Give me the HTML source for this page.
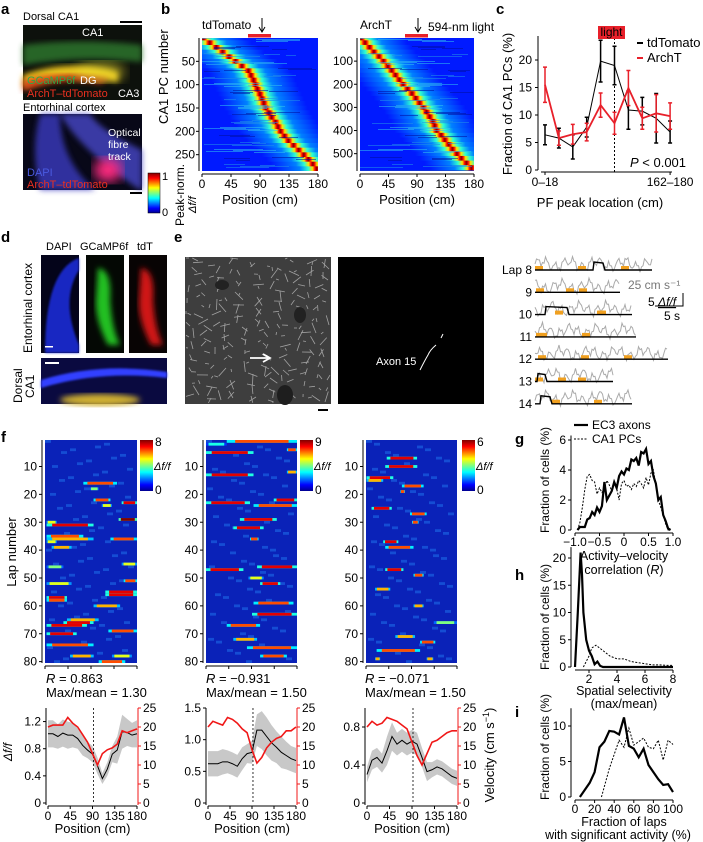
<!DOCTYPE html>
<html><head><meta charset="utf-8"><style>
html,body{margin:0;padding:0;background:#fff;}
svg{display:block;font-family:"Liberation Sans",sans-serif;}
text{font-family:"Liberation Sans",sans-serif;}
</style></head>
<body>
<svg id="fig" width="703" height="842" viewBox="0 0 703 842" xmlns="http://www.w3.org/2000/svg">
<defs>
<linearGradient id="jetV" x1="0" y1="1" x2="0" y2="0">
<stop offset="0" stop-color="#00008f"/><stop offset="0.12" stop-color="#0000ff"/><stop offset="0.37" stop-color="#00ffff"/><stop offset="0.5" stop-color="#80ff80"/><stop offset="0.63" stop-color="#ffff00"/><stop offset="0.87" stop-color="#ff0000"/><stop offset="1" stop-color="#800000"/>
</linearGradient>
<filter id="blur6"><feGaussianBlur stdDeviation="6"/></filter>
<filter id="blur3"><feGaussianBlur stdDeviation="3"/></filter>
<filter id="blur1"><feGaussianBlur stdDeviation="1"/></filter>
</defs>

<!-- panel labels -->
<g font-weight="bold" font-size="15" fill="#000">
<text x="1" y="14">a</text>
<text x="161" y="14">b</text>
<text x="496" y="14">c</text>
<text x="1" y="242">d</text>
<text x="174" y="242">e</text>
<text x="1" y="442">f</text>
<text x="515" y="444">g</text>
<text x="515" y="580">h</text>
<text x="515" y="717">i</text>
</g>

<!-- panel a -->
<g font-size="11">
<text x="23" y="20">Dorsal CA1</text>
<rect x="120" y="21" width="22" height="2" fill="#000"/>
<rect x="23" y="25" width="119" height="75" fill="#0d110c"/>
<path d="M23 45 Q80 38 142 45 L142 62 Q80 55 23 65 Z" fill="#2f7a2f" opacity="0.8" filter="url(#blur3)"/>
<path d="M23 75 Q70 58 118 72 L118 82 Q70 70 23 88 Z" fill="#e8c21a" filter="url(#blur3)"/>
<path d="M23 80 Q60 70 110 78 L100 84 Q60 76 23 92 Z" fill="#e03818" opacity="0.8" filter="url(#blur3)"/>
<ellipse cx="100" cy="72" rx="25" ry="10" fill="#f0e030" opacity="0.6" filter="url(#blur6)"/>
<text x="82" y="36" fill="#fff">CA1</text>
<text x="27" y="84" fill="#2fa84a">GCaMP6f</text>
<text x="80" y="84" fill="#fff">DG</text>
<text x="27" y="97" fill="#e83020">ArchT–tdTomato</text>
<text x="118" y="97" fill="#fff">CA3</text>
<text x="23" y="111">Entorhinal cortex</text>
<rect x="23" y="114" width="119" height="76" fill="#080818"/>
<path d="M40 114 Q30 150 40 190 L95 190 Q60 160 60 114 Z" fill="#3a3ac0" opacity="0.8" filter="url(#blur3)"/>
<path d="M60 114 Q80 150 140 190 L142 190 L142 150 Q100 130 90 114 Z" fill="#4646c8" opacity="0.8" filter="url(#blur3)"/>
<ellipse cx="108" cy="170" rx="14" ry="12" fill="#ff2a80" filter="url(#blur6)"/>
<g font-size="10.5">
<text x="108" y="136" fill="#fff">Optical</text>
<text x="108" y="148" fill="#fff">fibre</text>
<text x="108" y="160" fill="#fff">track</text>
</g>
<text x="27" y="176" fill="#4a5ae0">DAPI</text>
<text x="27" y="188" fill="#e83020">ArchT–tdTomato</text>
<rect x="130" y="192" width="12" height="2" fill="#000"/>
<rect x="148" y="173" width="12" height="40" fill="url(#jetV)" stroke="#000" stroke-width="0.5"/>
<text x="162" y="180" font-size="11">1</text>
<text x="162" y="216" font-size="11">0</text>
<text transform="translate(184,226) rotate(-90)" font-size="12">Peak-norm.</text>
<text transform="translate(196,213) rotate(-90)" font-size="11" font-style="italic">Δf/f</text>
</g>

<!-- panel b titles -->
<g font-size="12">
<text x="202" y="29">tdTomato</text>
<text x="360" y="29">ArchT</text>
<text x="428" y="31">594-nm light</text>
<path d="M262 18 V31 M259 27 L262 32 L265 27" stroke="#000" fill="none"/>
<path d="M418 18 V31 M415 27 L418 32 L421 27" stroke="#000" fill="none"/>
<rect x="248" y="34" width="23" height="3.5" fill="#e8202a"/>
<rect x="405" y="34" width="23" height="3.5" fill="#e8202a"/>
<text transform="translate(168,124) rotate(-90)" font-size="13">CA1 PC number</text>
</g>

<!-- panel d -->
<g font-size="11">
<text x="46" y="250">DAPI</text>
<text x="80" y="250">GCaMP6f</text>
<text x="137" y="250">tdT</text>
<text transform="translate(32,353) rotate(-90)" font-size="12">Entorhinal cortex</text>
<text transform="translate(22,403) rotate(-90)" font-size="12">Dorsal</text>
<text transform="translate(34,398) rotate(-90)" font-size="12">CA1</text>
<rect x="41" y="255" width="38" height="98" fill="#04041a"/>
<path d="M79 258 Q45 270 45 353 L79 353 L79 345 Q60 300 79 270 Z" fill="#1f2de0" opacity="0.85" filter="url(#blur1)"/>
<rect x="86" y="255" width="38" height="98" fill="#040804"/>
<path d="M98 268 Q112 270 110 300 Q112 330 120 345 L108 345 Q95 320 96 300 Z" fill="#22c020" filter="url(#blur3)"/>
<rect x="129" y="255" width="38" height="98" fill="#080404"/>
<path d="M141 268 Q155 270 153 300 Q155 330 163 345 L151 345 Q138 320 139 300 Z" fill="#d01818" filter="url(#blur3)"/>
<rect x="45" y="346" width="8" height="1.5" fill="#fff"/>
<rect x="41" y="358" width="126" height="46" fill="#0a0a40"/>
<path d="M41 380 Q100 362 167 372 L167 378 Q100 370 41 388 Z" fill="#3040ff" filter="url(#blur1)"/>
<ellipse cx="100" cy="400" rx="40" ry="6" fill="#d0b030" filter="url(#blur3)"/>
<rect x="45" y="362" width="14" height="2" fill="#fff"/>
</g>

<!-- panel e -->
<g>
<rect x="185" y="257" width="146" height="147" fill="#3e3e3e"/>
<g id="eTex" opacity="0.8"></g>
<ellipse cx="222" cy="285" rx="7" ry="5" fill="#222"/>
<ellipse cx="300" cy="315" rx="6" ry="8" fill="#222"/>
<ellipse cx="285" cy="395" rx="8" ry="10" fill="#1e1e1e"/>
<path d="M250 358 H268 M263 354 L270 358 L263 362" stroke="#fff" stroke-width="1.8" fill="none"/>
<rect x="318" y="409" width="10" height="2" fill="#000"/>
<rect x="338" y="257" width="146" height="147" fill="#000"/>
<path d="M420 370 Q425 360 428 355 Q430 350 436 345 M441 338 L443 334" stroke="#fff" stroke-width="1" fill="none"/>
<text x="376" y="365" font-size="11" fill="#fff">Axon 15</text>
<g id="eTraces"></g>
<text x="628" y="289" font-size="12" fill="#777">25 cm s⁻¹</text>
<text x="648" y="306" font-size="12">5 <tspan font-style="italic" text-decoration="underline">Δf/f</tspan></text>
<path d="M683 293 V306 H655" stroke="#000" fill="none"/>
<text x="664" y="320" font-size="12">5 s</text>
</g>

<g id="plots"></g>
</svg>

<script>
// ===== DATA =====
// panel b
const bRowsTd = [0,10,20,30,40,50,60,70,80,90,100,110,120,130,140,150,160,170,180,190,200,210,220,230,240,250,260,270,280];
const bPeaksTd = [2,12,22,32,42,52,62,72,76,80,83,86,90,93,96,99,104,108,114,118,122,128,134,142,150,158,165,172,178];
const bRowsArch = [0,20,40,60,80,100,120,140,160,180,200,220,240,260,280,300,320,340,360,380,400,420,440,460,480,500,520,540,560];
const bPeaksArch = [2,8,15,22,30,37,44,50,56,62,68,75,82,88,94,100,105,110,115,118,121,128,134,140,146,153,160,168,176];
const bTicksTd = [50,100,150,200,250];
const bTicksArch = [100,200,300,400,500];
const posTicks = [0,45,90,135,180];
// panel c
const cBins = ['0–18','','','','','','','','','162–180'];
const cTd = [6.4,5.8,4.2,7.8,19.8,19,10.9,10.7,9.4,6.9];
const cTdErr = [1.8,1.8,2.2,1.8,3.8,3.5,3.5,2.5,4.5,2.0];
const cArch = [15.5,5.8,6.5,6.9,11.8,8.5,14.9,9.4,10.3,9.8];
const cArchErr = [3.2,1.3,1.8,1.6,2.2,2.0,3.2,2.0,3.4,2.4];
const cYTicks = [0,5,10,15,20];
// panel f heatmap events: [lap, startCm, endCm, level]
const fEvents1 = [[16,75,141,0.8],[18,88,105,0.5],[22,95,128,0.8],[23,150,180,0.9],[24,111,131,0.6],[29,144,180,1.0],[30,3,23,0.6],[31,3,95,0.9],[35,3,75,0.8],[36,3,95,0.7],[36,128,180,0.8],[37,3,23,0.6],[39,13,52,0.7],[45,150,180,0.6],[46,3,36,0.5],[51,154,180,0.8],[52,3,52,0.6],[55,118,180,0.9],[56,118,180,0.9],[57,3,43,0.9],[58,3,43,0.8],[60,95,147,0.7],[65,43,105,0.7],[66,36,95,0.9],[67,3,82,0.9],[69,124,180,0.8],[70,3,62,0.9],[74,3,95,0.8],[78,49,95,0.7],[78,131,170,0.6],[80,105,157,0.8]];
const fEvents2 = [[1,41,180,0.8],[2,0,41,0.4],[4,160,180,0.8],[5,0,94,0.9],[12,160,180,0.7],[13,0,94,0.9],[22,134,180,0.9],[23,0,87,0.9],[24,94,180,0.8],[29,67,140,0.9],[32,54,114,0.9],[36,87,104,0.8],[46,101,180,0.9],[47,0,74,0.9],[50,84,114,0.6],[52,107,147,0.9],[59,94,173,0.8],[63,91,180,0.9],[67,41,107,0.8],[72,54,101,0.7],[75,81,180,0.8],[78,107,160,0.8]];
const fEvents3 = [[7,41,101,0.9],[10,38,101,0.9],[14,1,54,0.9],[15,1,34,0.7],[17,71,114,0.8],[19,68,77,0.8],[25,11,51,0.9],[27,87,120,0.8],[30,91,104,0.8],[37,34,64,0.9],[39,38,94,0.8],[47,38,74,0.9],[49,94,114,0.8],[54,18,48,0.7],[60,94,114,0.7],[66,134,180,0.5],[71,58,97,0.7],[73,107,137,0.8],[76,21,107,0.8],[79,18,28,0.7],[79,120,133,0.7]];
const lapTicks = [10,20,30,40,50,60,70,80];
const fCbarMax = [8,9,6];
// panel f line plots
const fPos = [0,10,20,30,40,50,60,70,80,90,100,110,120,130,140,150,160,170,180];
const fDf1 = [1.02,1.02,0.98,1.03,1.0,1.0,0.95,0.85,0.78,0.72,0.55,0.36,0.5,0.72,0.78,1.05,1.04,1.0,1.02];
const fErr1 = [0.2,0.2,0.18,0.2,0.2,0.18,0.15,0.15,0.12,0.12,0.12,0.08,0.1,0.12,0.2,0.25,0.2,0.18,0.2];
const fVel1 = [20,20.5,20.5,20.5,22.5,21,20,18,16,13,10,13,14,14.5,15.5,19,18.5,19,19.5];
const fDf2 = [0.62,0.62,0.62,0.65,0.65,0.62,0.58,0.7,0.78,0.8,1.15,1.15,1.05,0.95,0.88,0.8,0.75,0.7,0.67];
const fErr2 = [0.2,0.2,0.2,0.2,0.18,0.18,0.18,0.18,0.15,0.18,0.25,0.3,0.3,0.28,0.25,0.25,0.22,0.2,0.2];
const fVel2 = [20,21.5,21,20.5,22.5,22,21,19.5,18.5,14,10.5,12,14.5,16,17,17.5,19,19,20];
const fDf3 = [0.3,0.45,0.48,0.42,0.55,0.7,0.62,0.66,0.62,0.65,0.62,0.48,0.33,0.35,0.38,0.36,0.32,0.28,0.26];
const fErr3 = [0.08,0.1,0.1,0.1,0.15,0.15,0.12,0.12,0.12,0.12,0.12,0.1,0.1,0.08,0.08,0.08,0.08,0.08,0.08];
const fVel3 = [20,21.5,20.5,21,22.5,22,21.5,20.5,19.5,16,12.5,10,13,16,16.5,17.5,18.5,19,19];
const fR = ['0.863','−0.931','−0.071'];
const fMaxMean = ['1.30','1.50','1.50'];
const fLeftTicks1 = [0,0.4,0.8,1.2];
const fLeftTicks2 = [0,0.5,1.0,1.5];
const fLeftTicks3 = [0,0.4,0.8];
const velTicks = [0,5,10,15,20,25];
// panel g
const gX = [-0.95,-0.9,-0.85,-0.8,-0.75,-0.7,-0.65,-0.6,-0.55,-0.5,-0.45,-0.4,-0.35,-0.3,-0.25,-0.2,-0.15,-0.1,-0.05,0,0.05,0.1,0.15,0.2,0.25,0.3,0.35,0.4,0.45,0.5,0.55,0.6,0.65,0.7,0.75,0.8,0.85,0.9,0.95];
const gEC3 = [0,0.2,0.2,0.2,0.7,0.8,1.2,1.0,1.5,1.2,1.6,3.2,2.0,2.3,2.6,3.2,2.8,3.6,3.9,3.7,4.1,4.0,4.7,4.6,4.8,4.3,5.2,5.1,5.4,4.4,4.6,3.6,3.1,2.0,2.2,1.0,0.6,0.1,0];
const gCA1 = [0,0.5,1.5,2.7,3.6,3.7,3.3,3.2,2.4,2.8,2.5,2.7,3.3,3.0,2.6,3.2,2.8,2.0,3.1,3.3,2.9,3.0,2.7,3.1,2.9,3.3,3.1,2.8,3.5,3.0,3.8,4.0,3.0,2.0,1.5,1.0,0.4,0,0];
const gXTicks = [-1.0,-0.5,0,0.5,1.0];
const gYTicks = [0,2,4,6];
// panel h
const hX = [1.0,1.2,1.4,1.5,1.6,1.8,2.0,2.2,2.4,2.6,2.8,3.0,4,5,6,7,8];
const hEC3 = [0,10,21,17,10,5,3,2,0.5,1,0.2,0,0,0,0,0,0];
const hXd = [1.6,2.0,2.2,2.5,3.0,3.5,4.0,4.5,5.0,5.5,6.0,6.5,7.0,7.5,8.0];
const hCA1 = [0,2,3.5,4,3,2,1.5,1.5,1,0.8,0.6,0.4,0.4,0.3,0.3];
const hXTicks = [2,4,6,8];
const hYTicks = [0,5,10,15,20];
// panel i
const iX = [5,10,15,20,25,30,35,40,45,50,55,60,65,70,75,80,85,90,95,100];
const iEC3 = [0,1,2,3.5,7,7.8,9.3,9.2,8.8,11.2,7.2,6.8,5.6,6.8,4.5,3.5,2.5,1.7,1.8,0.7];
const iXd = [27,35,45,50,55,60,70,75,80,85,90,95,100];
const iCA1 = [0,4,8,7,9.7,7.3,8.3,7,6.8,8,5.2,8,7.4];
const iXTicks = [0,20,40,60,80,100];
const iYTicks = [0,5,10];
// panel e traces
const eLaps = ['Lap 8','9','10','11','12','13','14'];
const eLapLen = [117,85,97,101,133,78,97];
const eBump = [[58,10],[0,0],[10,22],[0,0],[0,0],[2,8],[5,10]];

// ===== DRAW =====
const NS = 'http://www.w3.org/2000/svg';
const svg = document.getElementById('plots');
function mk(tag, attrs, parent){ const e=document.createElementNS(NS,tag); for(const k in attrs) e.setAttribute(k,attrs[k]); (parent||svg).appendChild(e); return e; }
function tx(x,y,s,attrs,parent){ const e=mk('text',Object.assign({x:x,y:y,'font-size':11},attrs||{}),parent); e.textContent=s; return e; }
function jet(t){ t=Math.max(0,Math.min(1,t)); const c=v=>Math.round(255*Math.max(0,Math.min(1,v)));
  return 'rgb('+c(1.5-Math.abs(4*t-3))+','+c(1.5-Math.abs(4*t-2))+','+c(1.5-Math.abs(4*t-1))+')'; }
const defs = document.querySelector('defs');

// ---- panel b heatmaps
function heatB(x0,x1,y0,y1,rows,peaks,total,ticks,id){
  const g = mk('g',{});
  
  
  const sx = v=>x0+(x1-x0)*v/180, sy = r=>y0+(y1-y0)*r/total;
  mk('rect',{x:x0,y:y0,width:x1-x0,height:y1-y0,fill:'#1a3cc8'},g);
  for(let i=0;i<rows.length;i++){
    const r0 = sy(rows[i]) - (y1-y0)*(rows[1]-rows[0])/total/2;
    const h = (y1-y0)*(rows[1]-rows[0])/total;
    const px = sx(peaks[i]);
    const gr = mk('linearGradient',{id:'bg'+id+i,gradientUnits:'userSpaceOnUse',x1:px-42,y1:0,x2:px+42,y2:0},defs);
    const st=[[0,0.15],[0.3,0.25],[0.4,0.42],[0.45,0.65],[0.48,0.88],[0.5,1],[0.52,0.88],[0.55,0.65],[0.6,0.42],[0.7,0.25],[1,0.15]];
    st.forEach(s=>mk('stop',{offset:s[0],'stop-color':jet(s[1])},gr));
    const rr = mk('rect',{x:x0,y:Math.max(y0,r0),width:x1-x0,height:Math.min(h+0.5,y1-Math.max(y0,r0)),fill:'url(#bg'+id+i+')'},g);
    
    
  }
  for(let k=0;k<70;k++){ const yy=y0+((k*37)%133)*(y1-y0)/133; const w=((k*53)%40)+10; const xx=x0+((k*71)%(x1-x0-w));
    mk('rect',{x:xx,y:yy,width:w,height:1,fill:(k%3==0?'#30c0f0':(k%3==1?'#2090e8':'#0010a0')),opacity:0.55},g); }
  mk('line',{x1:x0-3,y1:y0,x2:x0-3,y2:y1,stroke:'#000','stroke-width':1},g);
  mk('line',{x1:x0,y1:y1+3,x2:x1,y2:y1+3,stroke:'#000','stroke-width':1},g);
  ticks.forEach(t=>{ mk('line',{x1:x0-6,x2:x0-3,y1:sy(t),y2:sy(t),stroke:'#000'},g); tx(x0-7,sy(t)+4,String(t),{'text-anchor':'end','font-size':12},g); });
  posTicks.forEach(t=>{ mk('line',{x1:sx(t),x2:sx(t),y1:y1+3,y2:y1+6,stroke:'#000'},g); tx(sx(t),y1+17,String(t),{'text-anchor':'middle','font-size':12},g); });
  const lab = tx((x0+x1)/2,y1+33,'Position (cm)',{'text-anchor':'middle','font-size':13},g);
  
  
}
heatB(202,318,38,171,bRowsTd,bPeaksTd,285,bTicksTd,'td');
heatB(360,474,38,171,bRowsArch,bPeaksArch,575,bTicksArch,'arch');

// ---- panel c
(function(){
  const g = mk('g',{});
  
  
  const sx = i=>545+i*13.9, sy = v=>170-v*5.5;
  mk('line',{x1:538,y1:36,x2:538,y2:170,stroke:'#000'},g);
  mk('line',{x1:541,y1:172,x2:672,y2:172,stroke:'#000'},g);
  cYTicks.forEach(t=>{ mk('line',{x1:535,x2:538,y1:sy(t),y2:sy(t),stroke:'#000'},g); tx(532,sy(t)+4,String(t),{'text-anchor':'end','font-size':12},g); });
  mk('line',{x1:sx(0),x2:sx(0),y1:172,y2:175,stroke:'#000'},g);
  mk('line',{x1:sx(9),x2:sx(9),y1:172,y2:175,stroke:'#000'},g);
  tx(sx(0),186,cBins[0],{'text-anchor':'middle','font-size':12},g);
  tx(sx(9),186,cBins[9],{'text-anchor':'middle','font-size':12},g);
  tx(600,207,'PF peak location (cm)',{'text-anchor':'middle','font-size':13},g);
  tx(0,0,'Fraction of CA1 PCs (%)',{'text-anchor':'middle','font-size':13,transform:'translate(512,104) rotate(-90)'},g);
  mk('line',{x1:sx(5),x2:sx(5),y1:38,y2:172,stroke:'#000','stroke-dasharray':'2,2'},g);
  const lb = mk('rect',{x:598,y:26,width:27,height:13,fill:'#e8202a'},g);
  
  
  tx(611.5,36,'light',{'text-anchor':'middle','font-size':12},g);
  function series(vals,errs,col,w,name){
    errs.forEach((e,i)=>{ const x=sx(i);
      const eb = mk('path',{d:`M${x} ${sy(vals[i]-e)}V${sy(vals[i]+e)}M${x-2} ${sy(vals[i]-e)}h4M${x-2} ${sy(vals[i]+e)}h4`,stroke:col,'stroke-width':1.5,fill:'none'},g);
      
      
    });
    const l = mk('polyline',{points:vals.map((v,i)=>sx(i)+','+sy(v)).join(' '),stroke:col,'stroke-width':w,fill:'none'},g);
    
    
  }
  series(cTd,cTdErr,'#000',1,'tdtomato');
  series(cArch,cArchErr,'#e8202a',1.8,'archt');
  mk('line',{x1:637,x2:643,y1:43,y2:43,stroke:'#000','stroke-width':2},g);
  const l1=tx(647,47,'tdTomato',{'font-size':13},g);
  
  
  mk('line',{x1:637,x2:643,y1:58,y2:58,stroke:'#e8202a','stroke-width':2},g);
  const l2=tx(647,62,'ArchT',{'font-size':13},g);
  
  
  tx(630,167,'',{'font-size':13},g).innerHTML='<tspan font-style="italic">P</tspan> &lt; 0.001';
})();

// ---- panel e textures & traces
(function(){
  const tg = document.getElementById('eTex');
  for(let k=0;k<220;k++){ const x=186+((k*47)%144), y=258+((k*89)%145), l=((k*13)%9)+3, a=(k*29)%180;
    mk('line',{x1:x,y1:y,x2:Math.min(330,Math.max(186,x+l*Math.cos(a))),y2:Math.min(403,Math.max(258,y+l*Math.sin(a))),stroke:'#bbb','stroke-width':0.8},tg); }
  const g = document.getElementById('eTraces');
  eLaps.forEach((lab,i)=>{
    const y = 270 + i*22.3, x0 = 535, L = eLapLen[i];
    const t = tx(x0-3,y+4,lab,{'text-anchor':'end','font-size':12},g);
    
    
    let p=''; for(let j=0;j<=L;j+=1.5){ const v = 6+4*Math.sin(j*0.7+i)+3*Math.sin(j*0.23+i*2)+2*Math.sin(j*1.9); p+=(j?'L':'M')+(x0+j)+' '+(y-v); }
    const gv = mk('path',{d:p,stroke:'#aaa','stroke-width':1,fill:'none'},g);
    
    
    for(let s=0;s<3;s++){ const sx0 = x0 + ((i*31+s*43)%(L-12)); mk('rect',{x:sx0,y:y-4,width:8,height:4,fill:'#f0a020'},g); }
    const b = eBump[i]; let q='M'+x0+' '+y;
    if(b[1]>0){ q+='L'+(x0+b[0])+' '+y+'L'+(x0+b[0]+1)+' '+(y-8)+'L'+(x0+b[0]+b[1])+' '+(y-7)+'L'+(x0+b[0]+b[1]+2)+' '+y; }
    q+='L'+(x0+L)+' '+y;
    const bl = mk('path',{d:q,stroke:'#000','stroke-width':1.4,fill:'none'},g);
    
    
  });
})();

// ---- panel f heatmaps
function heatF(x0,x1,events,cbx,cmax,id){
  const y0=440, y1=663;
  const g = mk('g',{});
  
  
  const sx = v=>x0+(x1-x0)*v/180, sy = l=>y0+(y1-y0)*(l-1)/80;
  mk('rect',{x:x0,y:y0,width:x1-x0,height:y1-y0,fill:'#0a22b8'},g);
  for(let k=0;k<80;k++){ const xx=x0+((k*67)%(x1-x0-8)), yy=y0+((k*41)%80)*(y1-y0)/80; mk('rect',{x:xx,y:yy,width:6,height:2.8,fill:'#1a60e0',opacity:0.7},g); }
  events.forEach(e=>{
    const x=sx(e[1]), w=sx(e[2])-x, y=sy(e[0]);
    mk('rect',{x:x,y:y,width:w,height:2.8,fill:jet(e[3]*0.45)},g);
    const c = mk('rect',{x:x+w*0.12,y:y,width:w*0.76,height:2.8,fill:jet(e[3])},g);
    
    
  });
  mk('line',{x1:x0-3,y1:y0,x2:x0-3,y2:y1,stroke:'#000'},g);
  mk('line',{x1:x0,y1:y1+3,x2:x1,y2:y1+3,stroke:'#000'},g);
  lapTicks.forEach(t=>{ mk('line',{x1:x0-6,x2:x0-3,y1:sy(t)+1.4,y2:sy(t)+1.4,stroke:'#000'},g); tx(x0-8,sy(t)+5.5,String(t),{'text-anchor':'end','font-size':12},g); });
  posTicks.forEach(t=>mk('line',{x1:sx(t),x2:sx(t),y1:y1+3,y2:y1+6,stroke:'#000'},g));
  const cb = mk('rect',{x:cbx,y:440,width:13,height:51,fill:'url(#jetV)'},g);
  
  
  tx(cbx+15,446,String(cmax),{'font-size':12},g);
  tx(cbx+15,494,'0',{'font-size':12},g);
  tx(cbx+14,470,'Δf/f',{'font-size':11,'font-style':'italic'},g);
}
heatF(45,137,fEvents1,140,fCbarMax[0],'1');
heatF(206,297,fEvents2,300,fCbarMax[1],'2');
heatF(366,457,fEvents3,462,fCbarMax[2],'3');
tx(0,0,'Lap number',{'text-anchor':'middle','font-size':13,transform:'translate(16,552) rotate(-90)'});

// ---- panel f line plots
function lineF(x0,x1,df,err,vel,lmax,lticks,id,k){
  const yb=803, yt=708;
  const g = mk('g',{});
  
  
  const sx=v=>x0+(x1-x0)*v/180, syl=v=>yb-(yb-yt)*v/lmax, syr=v=>yb-(yb-yt)*v/25;
  tx(x0-2,683,'',{'font-size':13},g).innerHTML='<tspan font-style="italic">R</tspan> = '+fR[k];
  tx(x0-2,697,'Max/mean = '+fMaxMean[k],{'font-size':13},g);
  const band = mk('polygon',{points:fPos.map((p,i)=>sx(p)+','+syl(df[i]+err[i])).concat(fPos.slice().reverse().map((p,j)=>{const i=fPos.length-1-j;return sx(p)+','+syl(Math.max(0,df[i]-err[i]));})).join(' '),fill:'#c8c8c8'},g);
  
  
  mk('line',{x1:sx(92),x2:sx(92),y1:yt,y2:yb,stroke:'#000','stroke-dasharray':'2,2','stroke-width':0.8},g);
  const bl = mk('polyline',{points:fPos.map((p,i)=>sx(p)+','+syl(df[i])).join(' '),stroke:'#000','stroke-width':1,fill:'none'},g);
  
  
  const rl = mk('polyline',{points:fPos.map((p,i)=>sx(p)+','+syr(vel[i])).join(' '),stroke:'#f01818','stroke-width':1.6,fill:'none'},g);
  
  
  mk('line',{x1:x0-2,y1:yt,x2:x0-2,y2:yb+2,stroke:'#000'},g);
  mk('line',{x1:x0,y1:yb+3,x2:x1,y2:yb+3,stroke:'#000'},g);
  mk('line',{x1:x1+1,y1:yt,x2:x1+1,y2:yb+2,stroke:'#f01818'},g);
  lticks.forEach(t=>{ mk('line',{x1:x0-5,x2:x0-2,y1:syl(t),y2:syl(t),stroke:'#000'},g); tx(x0-7,syl(t)+4,String(t===1?'1.0':t),{'text-anchor':'end','font-size':12},g); });
  velTicks.forEach(t=>{ mk('line',{x1:x1+1,x2:x1+4,y1:syr(t),y2:syr(t),stroke:'#f01818'},g); tx(x1+6,syr(t)+4,String(t),{'font-size':12},g); });
  posTicks.forEach(t=>{ mk('line',{x1:sx(t),x2:sx(t),y1:yb+3,y2:yb+6,stroke:'#000'},g); tx(sx(t),yb+17,String(t),{'text-anchor':'middle','font-size':12},g); });
  tx((x0+x1)/2,833,'Position (cm)',{'text-anchor':'middle','font-size':13},g);
}
lineF(48,137,fDf1,fErr1,fVel1,1.4,fLeftTicks1,'1',0);
lineF(208,296,fDf2,fErr2,fVel2,1.5,fLeftTicks2,'2',1);
lineF(367,457,fDf3,fErr3,fVel3,1.0,fLeftTicks3,'3',2);
tx(0,0,'Δf/f',{'text-anchor':'middle','font-size':12,'font-style':'italic',transform:'translate(12,752) rotate(-90)'});
tx(0,0,'',{'text-anchor':'middle','font-size':13,transform:'translate(494,755) rotate(-90)'}).innerHTML='Velocity (cm s<tspan baseline-shift="super" font-size="9">−1</tspan>)';

// ---- panels g, h, i
function hist(x0,x1,xmin,xmax,yb,ymax,ypx,xs,ys,xd,yd,xt,yt,id,fmt){
  const g = mk('g',{});
  
  
  const sx=v=>x0+(x1-x0)*(v-xmin)/(xmax-xmin), sy=v=>yb-ypx*v;
  mk('line',{x1:x0-4,y1:yb-ymax*ypx,x2:x0-4,y2:yb,stroke:'#000'},g);
  mk('line',{x1:x0,y1:yb+3,x2:x1,y2:yb+3,stroke:'#000'},g);
  yt.forEach(t=>{ mk('line',{x1:x0-7,x2:x0-4,y1:sy(t),y2:sy(t),stroke:'#000'},g); tx(x0-9,sy(t)+4,String(t),{'text-anchor':'end','font-size':12},g); });
  xt.forEach(t=>{ mk('line',{x1:sx(t),x2:sx(t),y1:yb+3,y2:yb+6,stroke:'#000'},g); tx(sx(t),yb+16,fmt(t),{'text-anchor':'middle','font-size':12},g); });
  const d = mk('polyline',{points:xd.map((v,i)=>sx(v)+','+sy(yd[i])).join(' '),stroke:'#000','stroke-width':1,'stroke-dasharray':'2,1.5',fill:'none'},g);
  
  
  const s = mk('polyline',{points:xs.map((v,i)=>sx(v)+','+sy(ys[i])).join(' '),stroke:'#000','stroke-width':2.2,fill:'none'},g);
  
  
  tx(0,0,'Fraction of cells (%)',{'text-anchor':'middle','font-size':12,transform:'translate(549,'+(yb-50)+') rotate(-90)'},g);
}
const fmt1 = t=>t===0?'0':(t<0?'−':'')+Math.abs(t).toFixed(1);
hist(575,673,-1,1,530,6.3,15,gX,gEC3,gX,gCA1,gXTicks,gYTicks,'g',fmt1);
tx(624,560,'Activity–velocity',{'text-anchor':'middle','font-size':12.5});
tx(624,574,'',{'text-anchor':'middle','font-size':12.5}).innerHTML='correlation (<tspan font-style="italic">R</tspan>)';
mk('line',{x1:574,x2:588,y1:425,y2:425,stroke:'#000','stroke-width':2.2});
tx(592,429,'EC3 axons',{'font-size':12});
mk('line',{x1:574,x2:588,y1:439,y2:439,stroke:'#000','stroke-dasharray':'2,1.5'});
tx(592,443,'CA1 PCs',{'font-size':12});
hist(575,673,1,8,667,22,5.45,hX,hEC3,hXd,hCA1,hXTicks,hYTicks,'h',t=>String(t));
tx(624,695,'Spatial selectivity',{'text-anchor':'middle','font-size':12.5});
tx(624,708,'(max/mean)',{'text-anchor':'middle','font-size':12.5});
hist(575,673,0,100,797,12.5,7.1,iX,iEC3,iXd,iCA1,iXTicks,iYTicks,'i',t=>String(t));
tx(624,826,'Fraction of laps',{'text-anchor':'middle','font-size':12.5});
tx(618,839,'with significant activity (%)',{'text-anchor':'middle','font-size':12.5});
</script>
</body></html>
